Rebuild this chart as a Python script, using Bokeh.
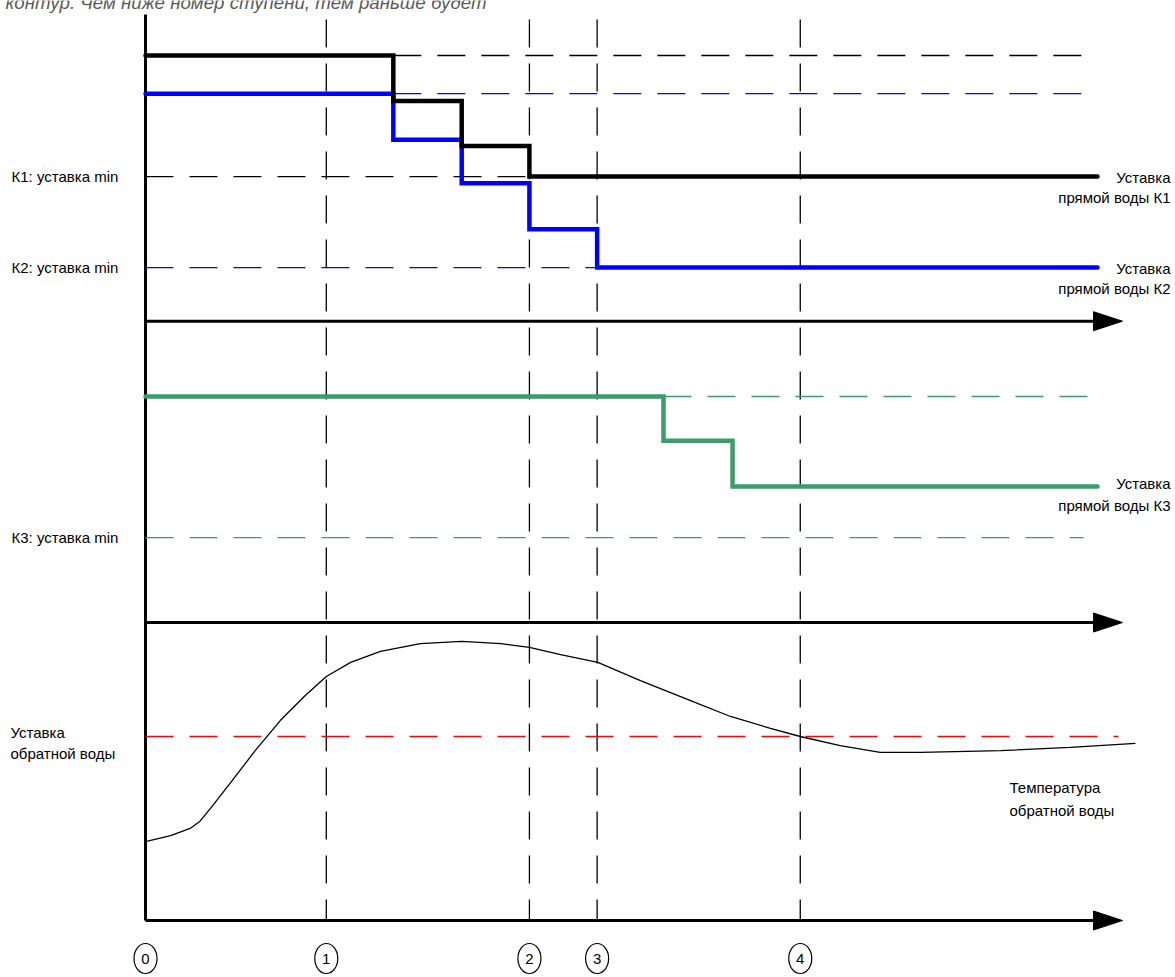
import numpy as np
from bokeh.plotting import figure
from bokeh.models import Range1d
from bokeh.core.properties import value
from bokeh.embed import file_html
from bokeh.resources import INLINE

# ---------------- data ----------------
# time of the numbered events (arbitrary time units)
stage_labels = ["0", "1", "2", "3", "4"]
stage_times = [0.0, 26.7, 56.7, 66.7, 96.7]

# supply-water setpoint, circuit K1 (step function)
k1_times = [0.0, 36.6, 46.7, 56.7]
k1_levels = [95.0, 85.0, 75.1, 68.4]
k1_max, k1_min = 95.0, 68.4

# supply-water setpoint, circuit K2
k2_times = [0.0, 36.6, 46.7, 56.7, 66.7]
k2_levels = [86.6, 76.5, 66.9, 56.8, 48.4]
k2_max, k2_min = 86.6, 48.4

# supply-water setpoint, circuit K3
k3_times = [0.0, 76.5, 86.7]
k3_levels = [80.0, 70.3, 60.2]
k3_max, k3_min = 80.0, 49.0

t_end = 140.6          # end of the setpoint lines
t_dash_end = 139.6     # end of the dashed max lines

# return-water temperature curve
ret_t = [0.0, 3.7, 6.6, 8.0, 9.6, 12.6, 16.2, 19.9, 23.6, 26.7, 30.3, 34.7, 40.6,
         46.7, 52.5, 56.7, 61.3, 66.8, 73.1, 80.5, 86.4, 92.3, 96.7, 102.6,
         108.5, 114.5, 126.3, 136.6, 146.2]
ret_temp = [26.9, 28.2, 29.8, 31.3, 34.2, 39.9, 46.9, 53.5, 59.0, 63.2, 66.3,
            68.7, 70.4, 70.9, 70.4, 69.6, 68.0, 66.3, 62.3, 57.9, 54.4, 51.8,
            50.0, 48.0, 46.5, 46.5, 46.9, 47.6, 48.5]
ret_setpoint = 50.0
ret_set_end = 143.7

# ---------------- layout helpers ----------------
W, H = 1175, 977
TOP, BOTTOM = 0, H              # picture rows of the canvas
LEFT, RIGHT = 0, W
X0_PX = 145.0                   # picture column of time 0
PXT = 6.771                     # pixels per time unit
PPU = 4.55                      # pixels per degree in every panel


def tx(px):
    return (px - X0_PX) / PXT


def panel_range(v_ref, px_ref):
    return Range1d(start=v_ref - (BOTTOM - px_ref) / PPU,
                   end=v_ref + (px_ref - TOP) / PPU)


FONT = value("Liberation Sans")
GREEN = "#3a9d6b"
BLUE = "#0000ff"
DASH = "28 16"

p = figure(width=W, height=H, output_backend="svg", toolbar_location=None,
           x_range=Range1d(tx(LEFT), tx(RIGHT)), y_range=Range1d(BOTTOM, TOP),
           x_axis_location=None, y_axis_location=None, min_border=0,
           outline_line_color=None, background_fill_color="white")
p.grid.visible = False
p.extra_y_ranges = {"sup12": panel_range(95.0, 55.0),
                    "sup3": panel_range(80.0, 396.0),
                    "ret": panel_range(50.0, 736.0)}

# ---------------- frame: axes with arrows ----------------
axis_rows = [320.7, 622.0, 920.0]
axis_tip, head_len, head_half = tx(1122), 29 / PXT, 9.5
p.segment(x0=[0.0], y0=[14.0], x1=[0.0], y1=[axis_rows[-1]], line_color="black", line_width=3)
p.segment(x0=[0.0] * 3, y0=axis_rows, x1=[axis_tip - head_len + 0.3] * 3, y1=axis_rows,
          line_color="black", line_width=3)
p.patches(xs=[[axis_tip - head_len, axis_tip, axis_tip - head_len] for _ in axis_rows],
          ys=[[r - head_half, r, r + head_half] for r in axis_rows],
          fill_color="black", line_color="black", line_width=1)

# vertical event lines
p.segment(x0=stage_times[1:], y0=[19.0] * 4, x1=stage_times[1:], y1=[axis_rows[-1]] * 4,
          line_color="black", line_width=1.3, line_dash=DASH)

# event markers
marker_row = 958.0
p.ellipse(x=stage_times, y=[marker_row] * 5, width=23, height=30, width_units="screen",
          height_units="screen", fill_color="white", line_color="black", line_width=1.2)
p.text(x=stage_times, y=[marker_row] * 5, text=stage_labels, text_font=FONT, text_font_size="15px",
       text_align="center", text_baseline="middle", text_color="black")

# ---------------- panel 1: K1 / K2 ----------------
p.segment(x0=[k1_times[1], 0.0], y0=[k1_max, k1_min], x1=[t_dash_end, k1_times[-1]],
          y1=[k1_max, k1_min], line_color="black", line_width=1.3, line_dash=DASH,
          y_range_name="sup12")
p.segment(x0=[k2_times[1], 0.0], y0=[k2_max, k2_min], x1=[t_dash_end, k2_times[-1]],
          y1=[k2_max, k2_min], line_color=BLUE, line_width=1.3, line_dash=DASH,
          y_range_name="sup12")
p.step(x=k2_times + [t_end], y=k2_levels + [k2_levels[-1]], mode="after", line_color=BLUE,
       line_width=4.5, line_join="miter", line_cap="round", y_range_name="sup12")
p.step(x=k1_times + [t_end], y=k1_levels + [k1_levels[-1]], mode="after", line_color="black",
       line_width=4.5, line_join="miter", line_cap="round", y_range_name="sup12")

# ---------------- panel 2: K3 ----------------
p.segment(x0=[k3_times[1], 0.0], y0=[k3_max, k3_min], x1=[t_dash_end, tx(1083)],
          y1=[k3_max, k3_min], line_color=GREEN, line_width=1.3, line_dash=DASH,
          y_range_name="sup3")
p.step(x=k3_times + [t_end], y=k3_levels + [k3_levels[-1]], mode="after", line_color=GREEN,
       line_width=4.5, line_join="miter", line_cap="round", y_range_name="sup3")

# ---------------- panel 3: return water ----------------
p.segment(x0=[0.0], y0=[ret_setpoint], x1=[ret_set_end], y1=[ret_setpoint],
          line_color="#ff0000", line_width=1.3, line_dash=DASH, y_range_name="ret")
p.line(x=ret_t, y=ret_temp, line_color="black", line_width=1.3, y_range_name="ret")

# ---------------- texts ----------------
left_x = tx(11)
p.text(x=[left_x, left_x], y=[k1_min, k2_min], text=["К1: уставка min", "К2: уставка min"],
       text_font=FONT, text_font_size="15px", text_baseline="middle", text_color="black",
       y_range_name="sup12")
p.text(x=[left_x], y=[k3_min], text=["К3: уставка min"], text_font=FONT,
       text_font_size="15px", text_baseline="middle", text_color="black", y_range_name="sup3")

right_x = tx(1170)
p.text(x=[right_x] * 4, y=[k1_levels[-1], k1_levels[-1], k2_levels[-1], k2_levels[-1]],
       text=["Уставка", "прямой воды К1", "Уставка", "прямой воды К2"],
       y_offset=[1, 21, 1, 21], text_font=FONT, text_font_size="15px", text_align="right",
       text_baseline="alphabetic", text_color="black", y_range_name="sup12")
p.text(x=[right_x] * 2, y=[k3_levels[-1]] * 2, text=["Уставка", "прямой воды К3"],
       y_offset=[-3, 19], text_font=FONT, text_font_size="15px", text_align="right",
       text_baseline="alphabetic", text_color="black", y_range_name="sup3")
p.text(x=[tx(10)] * 2, y=[ret_setpoint] * 2, text=["Уставка", "обратной воды"],
       y_offset=[-4, 17], text_font=FONT, text_font_size="15px", text_baseline="alphabetic",
       text_color="black", y_range_name="ret")
p.text(x=[tx(1009)] * 2, y=[787.0, 810.0], text=["Температура", "обратной воды"],
       text_font=FONT, text_font_size="15px", text_baseline="alphabetic", text_color="black")

# cut-off caption line at the very top
p.text(x=[tx(5)], y=[2.0], text=["контур. Чем ниже номер ступени, тем раньше будет"],
       text_font=FONT, text_font_size="18.7px", text_font_style="italic",
       text_baseline="alphabetic", text_color="#595959")

open("out.html", "w").write(file_html(p, INLINE))
